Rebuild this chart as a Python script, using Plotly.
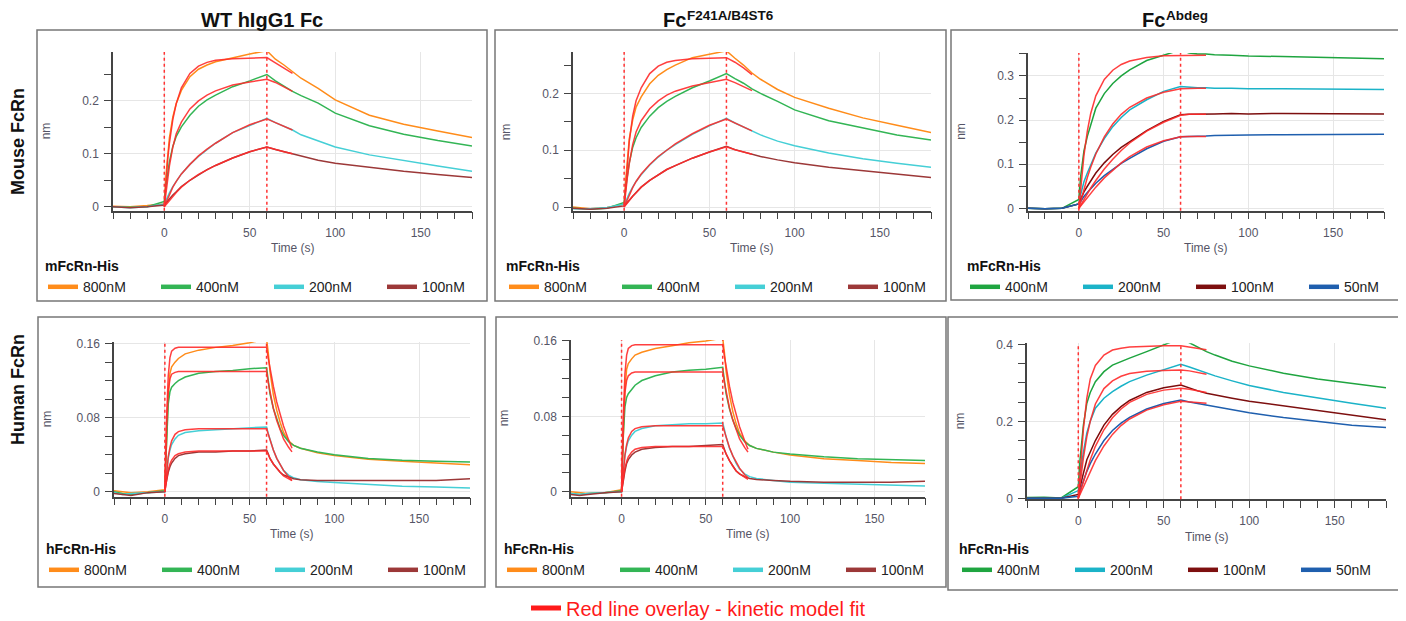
import plotly.graph_objects as go

W, H = 1406, 621
OFF = 8  # page body margin of the exported html, compensated in layout positions

# ---------------- data ----------------
# time grids (s)
t_slow = [-30, -20, -10, 0, 1, 2, 3, 5, 7, 10, 15, 20, 25, 30, 40, 50, 60, 65, 70, 75, 80, 90, 100, 120, 140, 160, 180]
tfit_slow = [0, 1, 2, 3, 5, 7, 10, 15, 20, 25, 30, 40, 50, 60, 65, 70, 75]
t_fast = [-30, -25, -20, -10, 0, 0.5, 1, 2, 3, 4, 6, 8, 12, 20, 30, 40, 50, 60, 61, 62, 64, 66, 68, 70, 73, 76, 80, 90, 100, 120, 140, 160, 180]
tfit_fast = [0, 0.5, 1, 2, 3, 4, 6, 8, 12, 20, 40, 60, 61, 62, 64, 66, 68, 70, 73, 75]
phase_marks = [0, 60]

conc_wt = ["800nM", "400nM", "200nM", "100nM"]
conc_abdeg = ["400nM", "200nM", "100nM", "50nM"]
panel_titles = ["<b>WT hIgG1 Fc</b>", "<b>Fc</b>", "<b>Fc</b>"]
panel_title_sups = ["", "<b>F241A/B4ST6</b>", "<b>Abdeg</b>"]
row_labels = ["<b>Mouse FcRn</b>", "<b>Human FcRn</b>"]
analyte_labels = ["<b>mFcRn-His</b>", "<b>hFcRn-His</b>"]
fit_label = "Red line overlay - kinetic model fit"
x_title = "Time (s)"
y_title = "nm"

# WT hIgG1 Fc - mouse FcRn (t_slow)
wt_m_800 = [0.001, 0.0, 0.002, 0.005, 0.06, 0.10, 0.13, 0.17, 0.195, 0.22, 0.246, 0.26, 0.268, 0.274, 0.282, 0.289, 0.295, 0.279, 0.268, 0.255, 0.243, 0.224, 0.202, 0.173, 0.156, 0.143, 0.131]
wt_m_400 = [0.0, -0.001, 0.0, 0.01, 0.04, 0.065, 0.085, 0.114, 0.133, 0.151, 0.173, 0.19, 0.202, 0.211, 0.227, 0.238, 0.25, 0.238, 0.228, 0.218, 0.21, 0.196, 0.177, 0.153, 0.137, 0.125, 0.115]
wt_m_200 = [0.0, -0.002, 0.0, 0.005, 0.012, 0.02, 0.026, 0.038, 0.048, 0.062, 0.08, 0.095, 0.108, 0.12, 0.14, 0.154, 0.167, 0.159, 0.152, 0.145, 0.136, 0.124, 0.113, 0.098, 0.087, 0.077, 0.067]
wt_m_100 = [0.0, -0.002, 0.0, 0.003, 0.007, 0.011, 0.015, 0.022, 0.028, 0.038, 0.05, 0.06, 0.07, 0.078, 0.092, 0.104, 0.113, 0.108, 0.104, 0.1, 0.095, 0.088, 0.082, 0.074, 0.067, 0.061, 0.055]
wt_m_800_fit = [0, 0.05, 0.09, 0.12, 0.165, 0.195, 0.225, 0.252, 0.266, 0.273, 0.277, 0.28, 0.281, 0.282, 0.272, 0.262, 0.252]
wt_m_400_fit = [0, 0.03, 0.055, 0.077, 0.113, 0.138, 0.16, 0.185, 0.2, 0.211, 0.219, 0.23, 0.236, 0.241, 0.235, 0.227, 0.218]
wt_m_200_fit = [0, 0.008, 0.016, 0.023, 0.037, 0.048, 0.062, 0.08, 0.096, 0.109, 0.12, 0.14, 0.155, 0.166, 0.159, 0.152, 0.145]
wt_m_100_fit = [0, 0.004, 0.008, 0.012, 0.02, 0.027, 0.037, 0.05, 0.061, 0.07, 0.078, 0.092, 0.104, 0.113, 0.108, 0.104, 0.1]

# Fc F241A/B4ST6 - mouse FcRn (t_slow)
fa_m_800 = [0.0, -0.003, -0.001, 0.005, 0.05, 0.094, 0.12, 0.153, 0.176, 0.194, 0.217, 0.232, 0.242, 0.25, 0.263, 0.269, 0.275, 0.262, 0.25, 0.236, 0.225, 0.207, 0.193, 0.174, 0.157, 0.144, 0.131]
fa_m_400 = [-0.002, -0.004, -0.002, 0.008, 0.035, 0.06, 0.078, 0.105, 0.122, 0.14, 0.16, 0.175, 0.186, 0.195, 0.21, 0.222, 0.235, 0.226, 0.218, 0.208, 0.2, 0.186, 0.171, 0.152, 0.139, 0.127, 0.118]
fa_m_200 = [-0.003, -0.003, -0.001, 0.005, 0.01, 0.018, 0.024, 0.035, 0.045, 0.057, 0.074, 0.088, 0.1, 0.11, 0.128, 0.143, 0.156, 0.148, 0.141, 0.134, 0.127, 0.116, 0.108, 0.095, 0.085, 0.077, 0.07]
fa_m_100 = [-0.002, -0.004, -0.002, 0.002, 0.005, 0.008, 0.012, 0.019, 0.025, 0.035, 0.047, 0.057, 0.066, 0.073, 0.086, 0.097, 0.107, 0.101, 0.097, 0.093, 0.089, 0.083, 0.078, 0.07, 0.064, 0.058, 0.052]
fa_m_800_fit = [0, 0.045, 0.085, 0.115, 0.16, 0.187, 0.21, 0.235, 0.248, 0.255, 0.258, 0.261, 0.262, 0.263, 0.255, 0.245, 0.233]
fa_m_400_fit = [0, 0.03, 0.055, 0.076, 0.11, 0.132, 0.152, 0.173, 0.187, 0.197, 0.204, 0.213, 0.219, 0.225, 0.219, 0.212, 0.205]
fa_m_200_fit = [0, 0.007, 0.014, 0.021, 0.034, 0.045, 0.058, 0.075, 0.089, 0.1, 0.111, 0.129, 0.144, 0.155, 0.148, 0.141, 0.134]
fa_m_100_fit = [0, 0.004, 0.008, 0.011, 0.019, 0.025, 0.035, 0.047, 0.057, 0.066, 0.073, 0.086, 0.097, 0.106, 0.101, 0.097, 0.093]

# Fc Abdeg - mouse FcRn (t_slow)
ab_m_400 = [0.0, -0.001, 0.0, 0.02, 0.07, 0.1, 0.13, 0.163, 0.19, 0.227, 0.26, 0.283, 0.3, 0.314, 0.335, 0.348, 0.359, 0.352, 0.35, 0.35, 0.348, 0.347, 0.345, 0.344, 0.342, 0.341, 0.339]
ab_m_200 = [0.0, -0.001, 0.0, 0.01, 0.03, 0.045, 0.06, 0.08, 0.098, 0.125, 0.158, 0.185, 0.206, 0.223, 0.246, 0.265, 0.276, 0.274, 0.273, 0.273, 0.272, 0.272, 0.271, 0.271, 0.27, 0.27, 0.269]
ab_m_100 = [0.0, -0.001, 0.0, 0.01, 0.02, 0.03, 0.037, 0.05, 0.062, 0.08, 0.103, 0.122, 0.138, 0.151, 0.176, 0.197, 0.212, 0.213, 0.213, 0.214, 0.214, 0.215, 0.214, 0.215, 0.215, 0.215, 0.214]
ab_m_50 = [0.0, -0.001, 0.0, 0.01, 0.015, 0.022, 0.027, 0.036, 0.045, 0.057, 0.074, 0.089, 0.102, 0.113, 0.135, 0.152, 0.162, 0.163, 0.163, 0.164, 0.165, 0.165, 0.166, 0.167, 0.167, 0.168, 0.168]
ab_m_400_fit = [0, 0.045, 0.085, 0.12, 0.175, 0.215, 0.255, 0.292, 0.313, 0.326, 0.334, 0.342, 0.346, 0.347, 0.347, 0.347, 0.347]
ab_m_200_fit = [0, 0.015, 0.03, 0.044, 0.07, 0.093, 0.123, 0.162, 0.191, 0.213, 0.229, 0.25, 0.263, 0.271, 0.272, 0.272, 0.272]
ab_m_100_fit = [0, 0.007, 0.014, 0.021, 0.034, 0.046, 0.063, 0.089, 0.111, 0.131, 0.148, 0.175, 0.195, 0.211, 0.213, 0.213, 0.213]
ab_m_50_fit = [0, 0.005, 0.01, 0.015, 0.025, 0.034, 0.048, 0.069, 0.087, 0.103, 0.117, 0.139, 0.153, 0.162, 0.163, 0.163, 0.163]

# WT hIgG1 Fc - human FcRn (t_fast)
wt_h_800 = [0.001, 0.0, -0.001, 0.0, 0.002, 0.03, 0.06, 0.105, 0.128, 0.135, 0.14, 0.144, 0.149, 0.153, 0.156, 0.158, 0.161, 0.165, 0.15, 0.13, 0.105, 0.088, 0.075, 0.064, 0.055, 0.05, 0.047, 0.042, 0.039, 0.035, 0.033, 0.031, 0.029]
wt_h_400 = [0.0, -0.002, -0.003, -0.001, 0.001, 0.03, 0.06, 0.095, 0.108, 0.113, 0.117, 0.12, 0.124, 0.128, 0.13, 0.131, 0.133, 0.134, 0.12, 0.106, 0.09, 0.078, 0.068, 0.061, 0.054, 0.05, 0.047, 0.043, 0.04, 0.036, 0.034, 0.033, 0.032]
wt_h_200 = [-0.001, -0.003, -0.002, -0.001, 0.0, 0.012, 0.022, 0.036, 0.045, 0.051, 0.057, 0.061, 0.064, 0.066, 0.067, 0.068, 0.069, 0.07, 0.063, 0.056, 0.045, 0.036, 0.029, 0.023, 0.018, 0.015, 0.013, 0.011, 0.01, 0.008, 0.006, 0.005, 0.004]
wt_h_100 = [-0.002, -0.003, -0.004, -0.001, 0.0, 0.007, 0.013, 0.021, 0.027, 0.031, 0.036, 0.039, 0.041, 0.043, 0.043, 0.044, 0.044, 0.045, 0.041, 0.036, 0.03, 0.025, 0.021, 0.018, 0.016, 0.014, 0.013, 0.012, 0.012, 0.012, 0.012, 0.012, 0.014]
wt_h_800_fit = [0, 0.045, 0.08, 0.125, 0.145, 0.152, 0.155, 0.156, 0.156, 0.156, 0.156, 0.156, 0.144, 0.133, 0.114, 0.097, 0.083, 0.071, 0.056, 0.047]
wt_h_400_fit = [0, 0.04, 0.07, 0.108, 0.122, 0.127, 0.129, 0.13, 0.13, 0.13, 0.13, 0.13, 0.118, 0.108, 0.09, 0.077, 0.066, 0.057, 0.048, 0.043]
wt_h_200_fit = [0, 0.012, 0.022, 0.038, 0.048, 0.055, 0.062, 0.065, 0.067, 0.068, 0.068, 0.068, 0.062, 0.056, 0.045, 0.036, 0.029, 0.023, 0.016, 0.012]
wt_h_100_fit = [0, 0.007, 0.014, 0.024, 0.03, 0.034, 0.039, 0.041, 0.043, 0.044, 0.044, 0.044, 0.04, 0.036, 0.03, 0.025, 0.021, 0.017, 0.014, 0.012]

# Fc F241A/B4ST6 - human FcRn (t_fast)
fa_h_800 = [0.0, -0.001, -0.002, -0.001, 0.002, 0.03, 0.06, 0.108, 0.13, 0.136, 0.141, 0.145, 0.148, 0.152, 0.155, 0.158, 0.16, 0.163, 0.148, 0.128, 0.103, 0.085, 0.072, 0.062, 0.054, 0.049, 0.046, 0.042, 0.039, 0.035, 0.033, 0.031, 0.03]
fa_h_400 = [-0.002, -0.003, -0.002, -0.001, 0.001, 0.03, 0.06, 0.09, 0.1, 0.104, 0.109, 0.113, 0.118, 0.123, 0.127, 0.129, 0.13, 0.132, 0.118, 0.104, 0.088, 0.076, 0.067, 0.06, 0.053, 0.049, 0.046, 0.042, 0.04, 0.037, 0.035, 0.034, 0.033]
fa_h_200 = [-0.002, -0.003, -0.002, -0.001, 0.0, 0.012, 0.022, 0.038, 0.048, 0.054, 0.06, 0.064, 0.067, 0.07, 0.071, 0.072, 0.072, 0.073, 0.066, 0.058, 0.046, 0.037, 0.03, 0.024, 0.019, 0.016, 0.014, 0.012, 0.01, 0.009, 0.008, 0.007, 0.006]
fa_h_100 = [-0.003, -0.004, -0.003, -0.001, 0.0, 0.007, 0.013, 0.022, 0.03, 0.034, 0.039, 0.042, 0.045, 0.047, 0.048, 0.048, 0.049, 0.05, 0.045, 0.04, 0.033, 0.027, 0.022, 0.019, 0.016, 0.014, 0.013, 0.012, 0.011, 0.01, 0.01, 0.01, 0.011]
fa_h_800_fit = [0, 0.045, 0.08, 0.125, 0.145, 0.152, 0.155, 0.156, 0.156, 0.156, 0.156, 0.156, 0.144, 0.132, 0.112, 0.095, 0.081, 0.069, 0.054, 0.045]
fa_h_400_fit = [0, 0.04, 0.07, 0.105, 0.118, 0.123, 0.126, 0.127, 0.127, 0.127, 0.127, 0.127, 0.116, 0.106, 0.089, 0.076, 0.065, 0.056, 0.047, 0.042]
fa_h_200_fit = [0, 0.012, 0.022, 0.039, 0.05, 0.057, 0.064, 0.067, 0.069, 0.07, 0.07, 0.07, 0.064, 0.058, 0.047, 0.038, 0.031, 0.025, 0.018, 0.015]
fa_h_100_fit = [0, 0.007, 0.014, 0.025, 0.032, 0.037, 0.042, 0.045, 0.047, 0.048, 0.048, 0.048, 0.044, 0.04, 0.033, 0.027, 0.022, 0.019, 0.015, 0.013]

# Fc Abdeg - human FcRn (t_slow)
ab_h_400 = [0.002, 0.003, 0.001, 0.03, 0.1, 0.15, 0.19, 0.247, 0.275, 0.303, 0.329, 0.346, 0.356, 0.364, 0.381, 0.398, 0.416, 0.404, 0.392, 0.381, 0.372, 0.356, 0.344, 0.325, 0.31, 0.298, 0.287]
ab_h_200 = [0.0, 0.0, 0.0, 0.02, 0.06, 0.09, 0.12, 0.17, 0.2, 0.234, 0.26, 0.277, 0.291, 0.303, 0.32, 0.335, 0.348, 0.341, 0.333, 0.325, 0.318, 0.305, 0.293, 0.275, 0.26, 0.247, 0.234]
ab_h_100 = [0.0, 0.0, 0.0, 0.01, 0.03, 0.05, 0.065, 0.1, 0.122, 0.15, 0.19, 0.218, 0.238, 0.254, 0.275, 0.287, 0.294, 0.286, 0.279, 0.273, 0.268, 0.26, 0.252, 0.24, 0.228, 0.216, 0.204]
ab_h_50 = [0.0, 0.0, 0.0, 0.005, 0.02, 0.032, 0.045, 0.07, 0.09, 0.115, 0.15, 0.176, 0.195, 0.21, 0.232, 0.246, 0.255, 0.25, 0.246, 0.242, 0.238, 0.23, 0.222, 0.21, 0.2, 0.19, 0.184]
ab_h_400_fit = [0, 0.07, 0.13, 0.18, 0.26, 0.31, 0.345, 0.372, 0.385, 0.39, 0.393, 0.395, 0.396, 0.396, 0.393, 0.39, 0.386]
ab_h_200_fit = [0, 0.04, 0.075, 0.105, 0.16, 0.2, 0.245, 0.285, 0.305, 0.317, 0.324, 0.33, 0.332, 0.333, 0.331, 0.327, 0.322]
ab_h_100_fit = [0, 0.015, 0.03, 0.045, 0.075, 0.1, 0.135, 0.178, 0.209, 0.232, 0.249, 0.27, 0.281, 0.286, 0.283, 0.279, 0.275]
ab_h_50_fit = [0, 0.01, 0.02, 0.03, 0.05, 0.07, 0.098, 0.136, 0.166, 0.189, 0.206, 0.229, 0.243, 0.252, 0.25, 0.249, 0.247]

# ---------------- styles ----------------
colors_wt = ["#FF8C1A", "#33B555", "#45CFD6", "#9C3838"]
colors_abdeg = ["#1FA540", "#1BB3C8", "#7D0F0F", "#1F5FAE"]
FIT = "#FF2B2B"
AX = "#444444"
GRID = "#E6E6E6"
TICK = "#555566"
FONT = "Liberation Sans, Arial, sans-serif"

series = [
    (t_slow, tfit_slow, conc_wt, colors_wt, [wt_m_800, wt_m_400, wt_m_200, wt_m_100],
     [wt_m_800_fit, wt_m_400_fit, wt_m_200_fit, wt_m_100_fit]),
    (t_slow, tfit_slow, conc_wt, colors_wt, [fa_m_800, fa_m_400, fa_m_200, fa_m_100],
     [fa_m_800_fit, fa_m_400_fit, fa_m_200_fit, fa_m_100_fit]),
    (t_slow, tfit_slow, conc_abdeg, colors_abdeg, [ab_m_400, ab_m_200, ab_m_100, ab_m_50],
     [ab_m_400_fit, ab_m_200_fit, ab_m_100_fit, ab_m_50_fit]),
    (t_fast, tfit_fast, conc_wt, colors_wt, [wt_h_800, wt_h_400, wt_h_200, wt_h_100],
     [wt_h_800_fit, wt_h_400_fit, wt_h_200_fit, wt_h_100_fit]),
    (t_fast, tfit_fast, conc_wt, colors_wt, [fa_h_800, fa_h_400, fa_h_200, fa_h_100],
     [fa_h_800_fit, fa_h_400_fit, fa_h_200_fit, fa_h_100_fit]),
    (t_slow, tfit_slow, conc_abdeg, colors_abdeg, [ab_h_400, ab_h_200, ab_h_100, ab_h_50],
     [ab_h_400_fit, ab_h_200_fit, ab_h_100_fit, ab_h_50_fit]),
]

# layout geometry in screen pixels
panels = [
    dict(x0=113, x1=472, y0=52, y1=210.7, yr=[-0.0076, 0.2926], dt=0.1, mdt=0.05, box=(37, 30, 487, 301), lx=43, ly=253, row=0),
    dict(x0=573, x1=931, y0=52, y1=210.7, yr=[-0.0065, 0.273], dt=0.1, mdt=0.05, box=(495, 30, 946, 301), lx=504, ly=253, row=0),
    dict(x0=1028, x1=1384, y0=53, y1=210.7, yr=[-0.0054, 0.352], dt=0.1, mdt=0.05, box=(951, 30, 1399, 300), lx=965, ly=253, row=0),
    dict(x0=114, x1=470, y0=342, y1=496.7, yr=[-0.0054, 0.1618], dt=0.08, mdt=0.02, box=(38, 317, 485, 587), lx=44, ly=536, row=1),
    dict(x0=571, x1=925, y0=340, y1=496.7, yr=[-0.0053, 0.161], dt=0.08, mdt=0.02, box=(496, 317, 946, 587), lx=502, ly=536, row=1),
    dict(x0=1027, x1=1386, y0=343.3, y1=499.3, yr=[-0.0026, 0.4026], dt=0.2, mdt=0.05, box=(948, 317, 1401, 590), lx=957, ly=536, row=1),
]
# (main text x, anchor, superscript x) in screen pixels
title_pos = [(262, "center", None), (662, "left", 686), (1141, "left", 1165)]
TITLE_Y, SUP_Y = 20, 16
row_label_pos = [(18, 142), (18, 390)]


def fx(p):
    return (p - OFF) / W


def fy(p):
    return 1 - (p - OFF) / H


fig = go.Figure()
layout = {}
shapes = []
annotations = []

for i, (p, s) in enumerate(zip(panels, series)):
    n = i + 1
    sfx = "" if n == 1 else str(n)
    xa, ya, lg = "x" + sfx, "y" + sfx, "legend" + sfx
    t, tf, names, cols, data, fits = s
    for d in data:
        assert len(d) == len(t)
    for f in fits:
        assert len(f) == len(tf)
    for name, col, d in zip(names, cols, data):
        fig.add_trace(go.Scatter(x=t, y=d, mode="lines", name=name, line=dict(color=col, width=1.5),
                                 xaxis=xa, yaxis=ya, showlegend=False))
    for name, f in zip(names, fits):
        fig.add_trace(go.Scatter(x=tf, y=f, mode="lines", name=name + " fit", line=dict(color=FIT, width=1.5),
                                 opacity=0.9, xaxis=xa, yaxis=ya, showlegend=False))
    for name, col in zip(names, cols):
        fig.add_trace(go.Scatter(x=[None], y=[None], mode="lines", name=name, line=dict(color=col, width=4.5),
                                 xaxis=xa, yaxis=ya, legend=lg, showlegend=True))

    common = dict(showline=True, linecolor=AX, linewidth=1.5, ticks="outside", ticklen=7, tickwidth=1.2,
                  tickcolor=AX, showgrid=True, gridcolor=GRID, gridwidth=1, zeroline=False, automargin=False,
                  tickfont=dict(size=12, color=TICK, family=FONT), fixedrange=True, ticklabelstandoff=3)
    layout["xaxis" + sfx] = dict(domain=[fx(p["x0"]), fx(p["x1"])], range=[-30, 180], anchor=ya,
                                 tick0=0, dtick=50,
                                 minor=dict(tick0=0, dtick=10, ticks="outside", ticklen=7, tickwidth=1.2,
                                            tickcolor=AX, showgrid=False), **common)
    layout["yaxis" + sfx] = dict(domain=[fy(p["y1"]), fy(p["y0"])], range=p["yr"], anchor=xa,
                                 tick0=0, dtick=p["dt"],
                                 minor=dict(tick0=0, dtick=p["mdt"], ticks="outside", ticklen=7, tickwidth=1.2,
                                            tickcolor=AX, showgrid=False), **common)
    layout[lg] = dict(x=fx(p["lx"]), y=fy(p["ly"]), xanchor="left", yanchor="top", orientation="h",
                      entrywidth=68, entrywidthmode="pixels", itemwidth=30, bgcolor="rgba(0,0,0,0)",
                      font=dict(size=14, color="#222222", family=FONT),
                      title=dict(text=analyte_labels[p["row"]], side="top",
                                 font=dict(size=14, color="#111111", family=FONT)))

    # frame box
    bl, bt, br, bb = p["box"]
    shapes.append(dict(type="rect", xref="paper", yref="paper", x0=fx(bl), x1=fx(br), y0=fy(bb), y1=fy(bt),
                       line=dict(color="#777777", width=1.5), layer="below"))
    # phase boundary dotted lines
    for m in phase_marks:
        shapes.append(dict(type="line", xref=xa, yref=ya + " domain", x0=m, x1=m, y0=0, y1=1,
                           line=dict(color="#FF3333", width=1.5, dash="dot")))
    # axis titles
    annotations.append(dict(text=y_title, xref="paper", yref="paper", x=fx(p["x0"] - 67),
                            y=fy((p["y0"] + p["y1"]) / 2), textangle=-90, showarrow=False,
                            font=dict(size=12, color=TICK, family=FONT), xanchor="center", yanchor="middle"))
    annotations.append(dict(text=x_title, xref="paper", yref="paper", x=fx((p["x0"] + p["x1"]) / 2),
                            y=fy(p["y1"] + 37.5), showarrow=False,
                            font=dict(size=12, color=TICK, family=FONT), xanchor="center", yanchor="middle"))

for txt, sup, (px_, anc, sx) in zip(panel_titles, panel_title_sups, title_pos):
    annotations.append(dict(text=txt, xref="paper", yref="paper", x=fx(px_), y=fy(TITLE_Y), showarrow=False,
                            borderpad=0, font=dict(size=20, color="#111111", family=FONT), xanchor=anc,
                            yanchor="middle"))
    if sup:
        annotations.append(dict(text=sup, xref="paper", yref="paper", x=fx(sx), y=fy(SUP_Y), showarrow=False,
                                borderpad=0, font=dict(size=13.5, color="#111111", family=FONT),
                                xanchor="left", yanchor="middle"))
for txt, (px_, py_) in zip(row_labels, row_label_pos):
    annotations.append(dict(text=txt, xref="paper", yref="paper", x=fx(px_), y=fy(py_), showarrow=False,
                            textangle=-90, font=dict(size=18, color="#111111", family=FONT),
                            xanchor="center", yanchor="middle"))

# kinetic fit legend entry
fig.add_trace(go.Scatter(x=[None], y=[None], mode="lines", name=fit_label, line=dict(color="#FF1A1A", width=5),
                         legend="legend7", showlegend=True))
layout["legend7"] = dict(x=fx(526), y=fy(608), xanchor="left", yanchor="middle", orientation="h",
                         bgcolor="rgba(0,0,0,0)", itemwidth=30,
                         font=dict(size=20, color="#FF1A1A", family=FONT))

fig.update_layout(width=W, height=H, margin=dict(l=0, r=0, t=0, b=0, autoexpand=False), paper_bgcolor="white",
                  plot_bgcolor="white", font=dict(family=FONT), shapes=shapes, annotations=annotations,
                  hovermode=False, **layout)

fig.write_html("out.html")
